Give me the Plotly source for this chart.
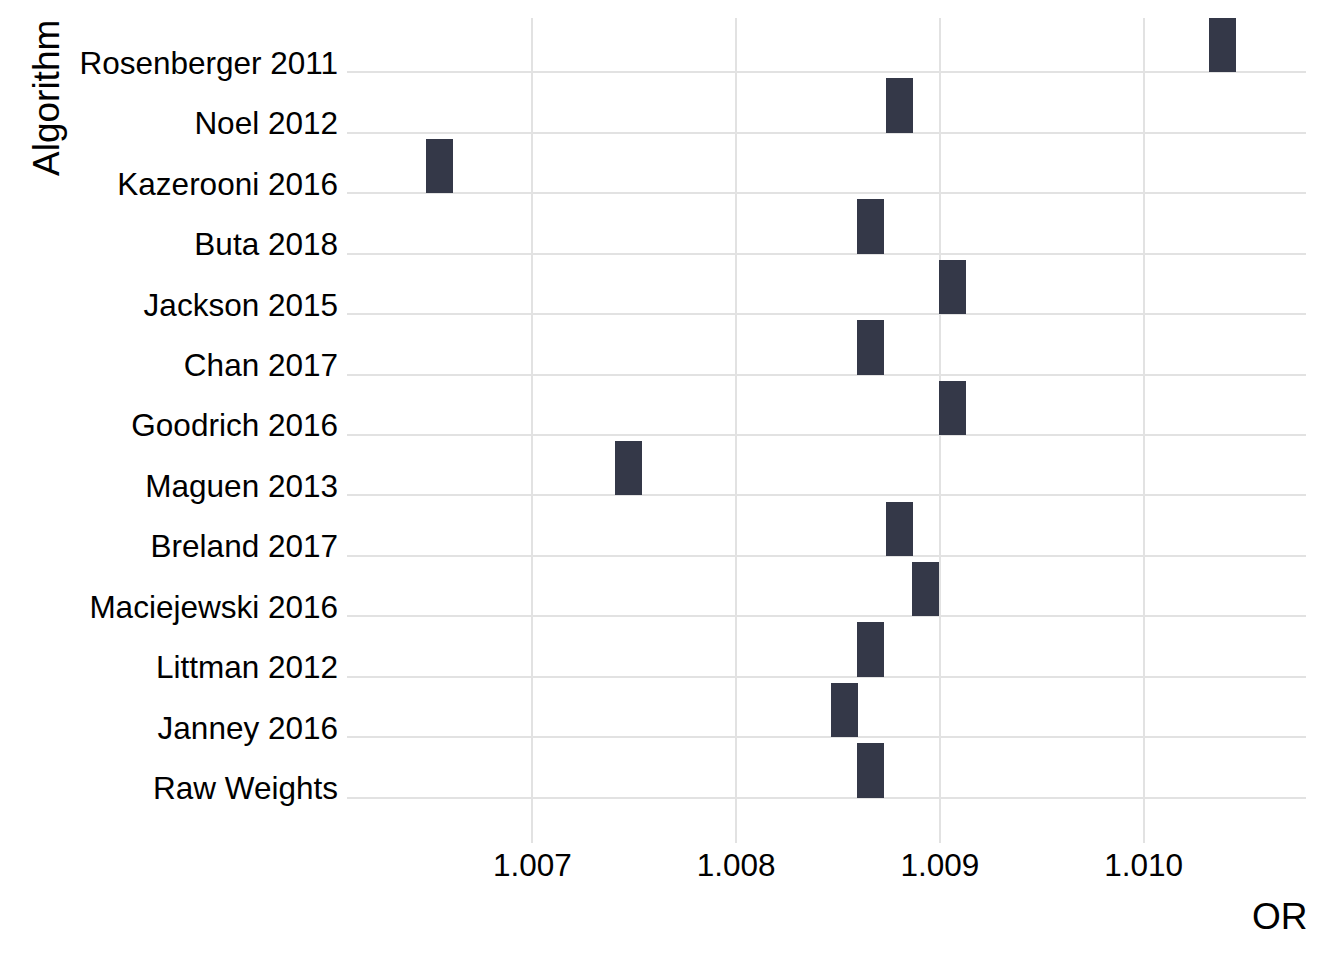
import plotly.graph_objects as go

# ---- data (top to bottom as displayed) ----
algorithms = ["Rosenberger 2011", "Noel 2012", "Kazerooni 2016", "Buta 2018",
              "Jackson 2015", "Chan 2017", "Goodrich 2016", "Maguen 2013",
              "Breland 2017", "Maciejewski 2016", "Littman 2012", "Janney 2016",
              "Raw Weights"]
or_values = [1.010385, 1.00880, 1.006545, 1.00866,
             1.00906, 1.00866, 1.00906, 1.00747,
             1.00880, 1.00893, 1.00866, 1.00853,
             1.00866]
x_ticks = [1.007, 1.008, 1.009, 1.010]
x_tick_labels = ["1.007", "1.008", "1.009", "1.010"]

n = len(algorithms)
positions = [n - i for i in range(n)]          # Rosenberger = 13 ... Raw Weights = 1
tile_width = 0.0001325
tile_height = 0.9
label_offset = 0.16

FONT = "Liberation Sans, Arial, sans-serif"
GRID = "#E2E2E2"
BAR = "#343848"

fig = go.Figure()
fig.add_trace(go.Bar(
    x=or_values,
    y=[tile_height] * n,
    base=positions,
    width=tile_width,
    marker=dict(color=BAR, line=dict(width=0)),
    hovertext=algorithms,
    showlegend=False,
))

# page body has an 8px margin; compensate so the figure lands on the 1344x960 window
OFF = 8
W, H = 1344 - OFF, 960 - OFF
L, T = 347 - OFF, 18 - OFF
R = W - (1306 - OFF)
B = H - (843 - OFF)
plot_w = W - L - R
plot_h = H - T - B

fig.update_layout(
    width=W, height=H, autosize=False,
    margin=dict(l=L, r=R, t=T, b=B, pad=0),
    paper_bgcolor="white", plot_bgcolor="white",
    font=dict(family=FONT, color="black"),
    bargap=0,
    xaxis=dict(
        range=[1.0060908, 1.0107964],
        tickmode="array", tickvals=x_ticks, ticktext=x_tick_labels,
        showgrid=True, gridcolor=GRID, gridwidth=1.5,
        zeroline=False, showline=False, ticks="",
        tickfont=dict(size=31.5, family=FONT, color="black"),
        ticklabelstandoff=0,
    ),
    yaxis=dict(
        range=[0.25, 13.9],
        tickmode="array",
        tickvals=[p + label_offset for p in positions],
        ticktext=algorithms,
        showgrid=False,
        minor=dict(tickmode="array", tickvals=positions, showgrid=True,
                   gridcolor=GRID, gridwidth=1.5, ticks=""),
        zeroline=False, showline=False, ticks="",
        tickfont=dict(size=31.5, family=FONT, color="black"),
        ticklabelstandoff=8,
    ),
    annotations=[
        dict(text="OR", xref="paper", yref="paper",
             x=1.0, y=(843 - 917) / plot_h, xanchor="right", yanchor="middle",
             xshift=4,
             showarrow=False, font=dict(size=37, family=FONT, color="black")),
        dict(text="Algorithm", xref="paper", yref="paper",
             x=(46 - 347) / plot_w, y=(843 - 18) / plot_h,
             xanchor="center", yanchor="top", textangle=-90,
             showarrow=False, font=dict(size=37, family=FONT, color="black")),
    ],
)

fig.write_html("out.html")
